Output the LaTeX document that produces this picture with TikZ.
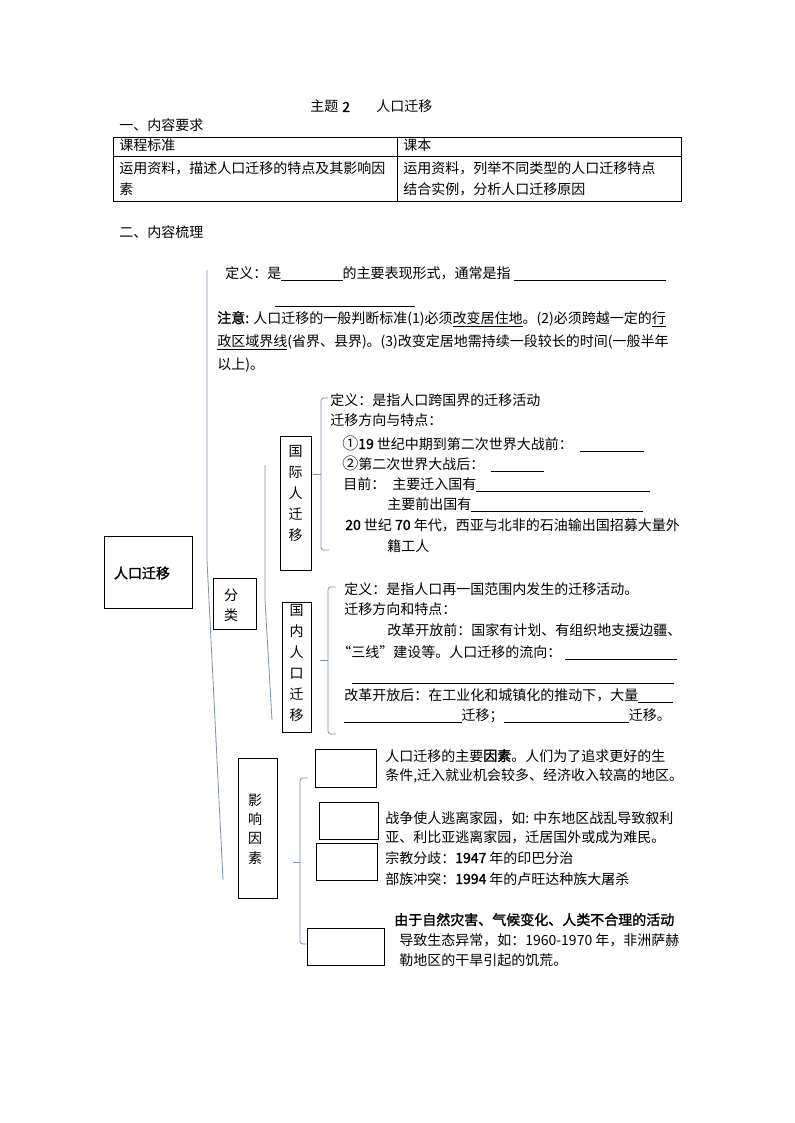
\documentclass[tikz,border=0pt]{standalone}
\usepackage{fontspec}
\newfontfamily\cjk{Noto Sans CJK SC}[AutoFakeBold=1.5]
\newcommand\bl[1]{\rule[-2.2pt]{#1pt}{0.45pt}}
\begin{document}
\begin{tikzpicture}[x=0.75pt,y=-0.75pt,
  every node/.style={font=\cjk\fontsize{10.5}{14}\selectfont},
  txt/.style={anchor=west,inner sep=0pt,text height=8pt,text depth=2pt},
  box/.style={draw=black,line width=0.6pt,inner sep=0pt},
  vtxt/.style={align=center,inner sep=0pt},
  brk/.style={draw={rgb,255:red,125;green,145;blue,170},line width=0.6pt},
  grid/.style={draw=black,line width=0.5pt}]
\useasboundingbox (0,0) rectangle (794,1123);
\fill[white] (0,0) rectangle (794,1123);

% title and headings
\node[txt] (t1) at (310,108) {主题\hspace{3pt}\textbf{2}};
\node[txt] (t2) at (376,108) {人口迁移};
\node[txt] (h1) at (119,127) {一、内容要求};

% table
\draw[grid] (113,137) rectangle (681,201);
\draw[grid] (397,137) -- (397,201);
\draw[grid] (113,156) -- (681,156);
\node[txt] (r1a) at (119,147) {课程标准};
\node[txt] (r1b) at (403,147) {课本};
\node[txt] (r2a) at (119,170) {运用资料，描述人口迁移的特点及其影响因};
\node[txt] (r2b) at (119,191) {素};
\node[txt] (r2c) at (403,170) {运用资料，列举不同类型的人口迁移特点};
\node[txt] (r2d) at (403,191) {结合实例，分析人口迁移原因};

\node[txt] (h2) at (119,234) {二、内容梳理};

% definition block
\node[txt] (d1) at (225,274) {定义：是\bl{46}的主要表现形式，通常是指 \bl{114}};
\node[txt] (d2) at (275,300) {\bl{105}};
\node[txt] (n1) at (217,319) {\textbf{注意:} 人口迁移的一般判断标准(1)必须\underline{改变居住地}。(2)必须跨越一定的\underline{行}};
\node[txt] (n2) at (217,342) {\underline{政区域界线}(省界、县界)。(3)改变定居地需持续一段较长的时间(一般半年};
\node[txt] (n3) at (217,365) {以上)。};

% main box
\node[box,minimum width=66pt,minimum height=54pt] (main) at (148,572) {};
\node[inner sep=0pt,font=\cjk\bfseries\fontsize{10.5}{14}\selectfont] (maint) at (142,573) {人口迁移};

% long lines
\coordinate (L1a) at (207,270);
\coordinate (L1b) at (207,560);
\coordinate (L1c) at (223,880);
\draw[brk] (L1a) -- (L1b) -- (L1c);
\coordinate (L2a) at (265,465);
\coordinate (L2b) at (265,600);
\coordinate (L2c) at (272,720);
\draw[brk] (L2a) -- (L2b) -- (L2c);

% classification box
\node[box,minimum width=32.25pt,minimum height=38.25pt] (fl) at (234.5,603.5) {};
\node[vtxt,font=\cjk\fontsize{10.5}{15}\selectfont] (flt) at (231,605) {分\\类};

% international
\node[box,minimum width=23.25pt,minimum height=100.5pt] (ig) at (295.5,503) {};
\node[vtxt,font=\cjk\fontsize{10.5}{15.75}\selectfont] (igt) at (295.5,494) {国\\际\\人\\迁\\移};
\draw[brk,rounded corners=2pt] (328,398) -- (321,398) -- (321,550) -- (329,550);
\coordinate (igb) at (321,474);
\coordinate (igm) at (313,474);
\draw[brk] (igb) -- (igm);
\node[txt] (a1) at (330,401) {定义：是指人口跨国界的迁移活动};
\node[txt] (a2) at (330,421) {迁移方向与特点：};
\node[txt] (a3) at (342,445) {{\fontsize{12}{14}\selectfont ①}\textbf{19} 世纪中期到第二次世界大战前：\hspace{5pt}\bl{48}};
\node[txt] (a4) at (342,465) {{\fontsize{12}{14}\selectfont ②}第二次世界大战后：\hspace{5pt}\bl{40}};
\node[txt] (a5) at (343,485) {目前：};
\node[txt] (a6) at (392,485) {主要迁入国有\bl{130}};
\node[txt] (a7) at (387,505) {主要前出国有\bl{129}};
\node[txt] (a8) at (345,526) {\textbf{20} 世纪 \textbf{70} 年代，西亚与北非的石油输出国招募大量外};
\node[txt] (a9) at (387,547) {籍工人};

% domestic
\node[box,minimum width=21.75pt,minimum height=97.5pt] (dm) at (296.5,667) {};
\node[vtxt,font=\cjk\fontsize{10.5}{15.75}\selectfont] (dmt) at (296.5,663) {国\\内\\人\\口\\迁\\移};
\draw[brk,rounded corners=2pt] (336,587) -- (328,587) -- (328,734) -- (336,734);
\coordinate (dmb) at (328,660);
\coordinate (dmm) at (320,660);
\draw[brk] (dmb) -- (dmm);
\node[txt] (c1) at (344,590) {定义：是指人口再一国范围内发生的迁移活动。};
\node[txt] (c2) at (344,610) {迁移方向和特点：};
\node[txt] (c3) at (387,631) {改革开放前：国家有计划、有组织地支援边疆、};
\node[txt] (c4) at (337,653) {“三线”建设等。人口迁移的流向：\hspace{3pt}\bl{84}};
\node[txt] (c5) at (352,677) {\bl{241}};
\node[txt] (c6) at (344,696) {改革开放后：在工业化和城镇化的推动下，大量\bl{26}};
\node[txt] (c7) at (344,716) {\bl{88}迁移；\bl{94}迁移。};

% factors
\node[box,minimum width=29.25pt,minimum height=105pt] (yx) at (257.5,828) {};
\node[vtxt,font=\cjk\fontsize{10.5}{14.6}\selectfont] (yxt) at (255,829) {影\\响\\因\\素};
\draw[brk,rounded corners=2pt] (308,778) -- (300,778) -- (300,944) -- (307,944);
\coordinate (yxb) at (300,862);
\coordinate (yxm) at (293,862);
\draw[brk] (yxb) -- (yxm);

\node[box,minimum width=45.75pt,minimum height=28.5pt] (b1) at (345.5,768) {};
\node[box,minimum width=44.25pt,minimum height=27.75pt] (b2) at (348.5,820.5) {};
\node[box,minimum width=45.75pt,minimum height=27.75pt] (b3) at (346.5,861.5) {};
\node[box,minimum width=57.75pt,minimum height=27.75pt] (b4) at (345.5,946.5) {};

\node[txt] (e1) at (385,757) {人口迁移的主要\textbf{因素}。人们为了追求更好的生};
\node[txt] (e2) at (385,776) {条件,迁入就业机会较多、经济收入较高的地区。};
\node[txt] (e3) at (385,819) {战争使人逃离家园，如: 中东地区战乱导致叙利};
\node[txt] (e4) at (385,838) {亚、利比亚逃离家园，迁居国外或成为难民。};
\node[txt] (e5) at (385,859) {宗教分歧：\textbf{1947} 年的印巴分治};
\node[txt] (e6) at (385,880) {部族冲突：\textbf{1994} 年的卢旺达种族大屠杀};
\node[txt] (e7) at (394,921) {\textbf{由于自然灾害、气候变化、人类不合理的活动}};
\node[txt] (e8) at (399,941) {导致生态异常，如：1960-1970 年，非洲萨赫};
\node[txt] (e9) at (399,961) {勒地区的干旱引起的饥荒。};
\end{tikzpicture}
\end{document}
